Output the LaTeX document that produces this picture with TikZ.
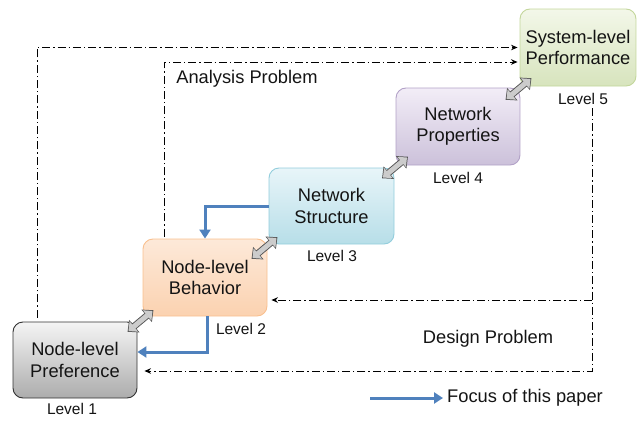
\documentclass[tikz,border=0pt]{standalone}
\usepackage{fontspec}
\setmainfont{Liberation Sans}
\usetikzlibrary{arrows.meta,calc}
\definecolor{focusblue}{RGB}{79,129,189}
\definecolor{txt}{RGB}{20,20,20}
\definecolor{oTop}{RGB}{253,233,217}
\definecolor{oBot}{RGB}{251,210,176}
\definecolor{oDraw}{RGB}{249,192,143}
\definecolor{bTop}{RGB}{232,245,249}
\definecolor{bBot}{RGB}{183,222,232}
\definecolor{bDraw}{RGB}{146,205,220}
\definecolor{pTop}{RGB}{242,237,247}
\definecolor{pBot}{RGB}{204,193,218}
\definecolor{pDraw}{RGB}{178,161,199}
\definecolor{gTop}{RGB}{243,247,233}
\definecolor{gBot}{RGB}{215,228,189}
\definecolor{gDraw}{RGB}{195,214,155}
\definecolor{kTop}{RGB}{245,245,245}
\definecolor{kBot}{RGB}{172,172,172}
\definecolor{kDraw}{RGB}{50,50,50}
\begin{document}
\begin{tikzpicture}[x=1pt,y=-1pt,
  level/.style={rounded corners=10pt, minimum width=124pt, minimum height=76pt,
    align=center, inner sep=0pt, line width=0.9pt, text=txt,
    font=\fontsize{18.3}{21.5}\selectfont},
  lvl/.style={inner sep=0pt, text=txt, font=\fontsize{15.5}{18}\selectfont},
  lbl/.style={inner sep=0pt, text=txt, font=\fontsize{18.3}{21}\selectfont},
  focus/.style={draw=focusblue, line width=3pt, -{Triangle[length=9pt,width=11pt]}},
  dd/.style={draw=black, line width=1pt,
    dash pattern=on 8pt off 3pt on 1.3pt off 3pt,
    -{Stealth[length=6.5pt,width=5.5pt]}},
  duplex/.style={line width=5pt, draw=gray!40,
    {Triangle[length=7pt,width=13pt]}-{Triangle[length=7pt,width=13pt]},
    preaction={draw=gray!65!black, line width=6.8pt,
      {Triangle[length=8.8pt,width=15.8pt]}-{Triangle[length=8.8pt,width=15.8pt]},
      shorten <=-1.2pt, shorten >=-1.2pt}}
]
\useasboundingbox (0,0) rectangle (637,423);

% boxes
\node[level, top color=kTop, bottom color=kBot, draw=kDraw] (L1) at (75,360) {Node-level\\Preference};
\node[level, top color=oTop, bottom color=oBot, draw=oDraw, minimum height=77pt] (L2) at (205,277.5) {Node-level\\Behavior};
\node[level, top color=bTop, bottom color=bBot, draw=bDraw, minimum width=125pt] (L3) at (331.5,206) {Network\\Structure};
\node[level, top color=pTop, bottom color=pBot, draw=pDraw, minimum height=77pt] (L4) at (458,126.5) {Network\\Properties};
\node[level, top color=gTop, bottom color=gBot, draw=gDraw, minimum width=116pt, minimum height=77pt] (L5) at (578,47.5) {System-level\\Performance};

% level labels
\node[lvl] (lv1) at (72,409) {Level 1};
\node[lvl] (lv2) at (241,329) {Level 2};
\node[lvl] (lv3) at (332,256) {Level 3};
\node[lvl] (lv4) at (458,178) {Level 4};
\node[lvl] (lv5) at (583,99) {Level 5};

% problem labels
\node[lbl] (ana) at (247,79) {Analysis Problem};
\node[lbl] (des) at (488,339) {Design Problem};

% analysis problem lines
\coordinate (a1) at (37,0);
\coordinate (a2) at (164,0);
\draw[dd, shorten >=2pt] ([yshift=4pt]L1.north -| a1) |- (L5.west);
\draw[dd, shorten >=2pt] ([yshift=2pt]L2.north -| a2) |- ([yshift=-14.5pt]L5.west);

% design problem lines
\coordinate (d0) at (592,108);
\coordinate (d1) at ([yshift=-22.5pt]L2.east);
\coordinate (d2) at ([yshift=-11pt]L1.east);
\draw[dd, shorten >=7pt] (d0) |- (d2);
\draw[dd, shorten >=4pt] (d0 |- d1) -- (d1);

% focus arrows
\draw[focus] (L3.west) -| (L2.north);
\draw[focus] ([xshift=2.5pt]L2.south) |- ([yshift=8pt]L1.east);

% block double arrows between levels
\coordinate (m12) at (140.5,321);
\coordinate (m23) at (264.5,248);
\coordinate (m34) at (395,167.5);
\coordinate (m45) at (518.5,89);
\foreach \m in {m12,m23,m34,m45}{
  \draw[duplex] ($(\m)+(-12,10)$) -- ($(\m)+(12,-10)$);
}

% legend
\coordinate (lg0) at (370,398);
\node[lbl, anchor=west] (foc) at (447,398) {Focus of this paper};
\draw[focus] (lg0) -- ([xshift=-4pt]foc.west);
\end{tikzpicture}
\end{document}
